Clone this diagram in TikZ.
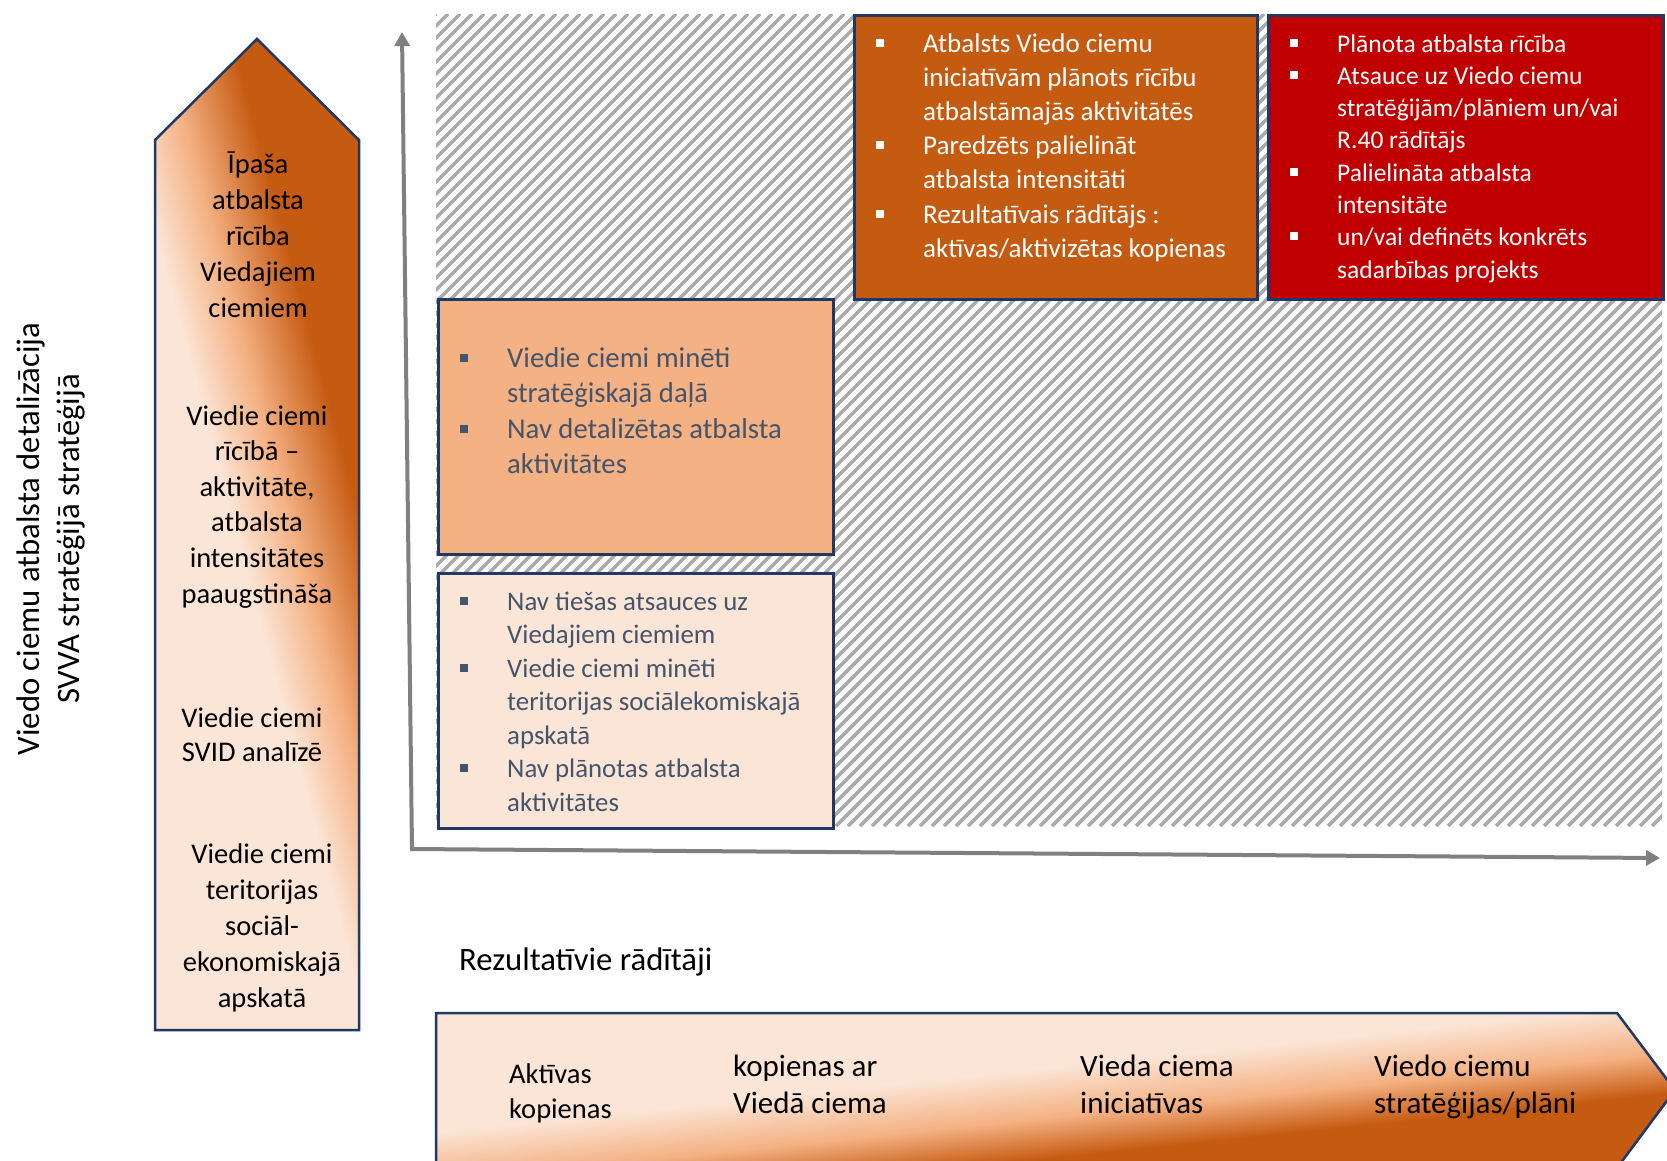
\documentclass[tikz,border=0pt]{standalone}
\usepackage{fontspec}
\setmainfont{Carlito}
\usetikzlibrary{arrows.meta}
\definecolor{pale}{HTML}{FBE5D6}
\definecolor{mid}{HTML}{F4B183}
\definecolor{dark}{HTML}{C55A11}
\definecolor{redbox}{HTML}{C00000}
\definecolor{navy}{HTML}{1F3864}
\definecolor{slate}{HTML}{44546A}
\definecolor{axisgray}{HTML}{808080}
\definecolor{hatchgray}{RGB}{170,168,168}
% gradient of the tall (left) arrow: square of 1000px, 20px per bp
\pgfdeclarehorizontalshading{pptv}{100bp}{color(0bp)=(pale); color(49bp)=(pale); color(51.75bp)=(mid); color(55.25bp)=(dark); color(100bp)=(dark)}
% gradient of the wide (bottom) arrow: square of 1240px, 24.8px per bp
\pgfdeclarehorizontalshading{ppth}{100bp}{color(0bp)=(pale); color(49.07bp)=(pale); color(51.07bp)=(mid); color(52.74bp)=(dark); color(100bp)=(dark)}
\newcommand\bitem{\par\noindent\llap{\rule[5.5pt]{8pt}{8pt}\hspace{39pt}}}
\tikzset{
  panel/.style={draw=navy, line width=2.5pt, inner sep=0pt, anchor=north west},
  outline/.style={draw=navy, line width=2.5pt, line join=miter},
  listtext/.style={anchor=base west, inner sep=0pt},
  ctext/.style={anchor=base, inner sep=0pt, text=black},
  ltext/.style={anchor=base west, inner sep=0pt, text=black},
  axisline/.style={draw=axisgray, line width=4pt, line join=miter,
    {Triangle[length=14pt,width=15pt]}-{Triangle[length=14pt,width=15pt]}},
}
\begin{document}
\begin{tikzpicture}[x=1pt,y=-1pt]
\useasboundingbox (0,0) rectangle (1667,1160);

% hatched field
\begin{scope}
\clip (436,14) rectangle (1662,826);
\foreach \i in {0,12,...,2052}
  \draw[hatchgray, line width=3.5pt] (\i-376,826) -- (\i+436,14);
\end{scope}

% boxes
\node[panel, fill=dark, minimum width=403pt, minimum height=284pt] (obox) at (853,14) {};
\node[panel, fill=redbox, minimum width=395pt, minimum height=284pt] (rbox) at (1267,14) {};
\node[panel, fill=mid, minimum width=395pt, minimum height=255pt] (pbox) at (437,298) {};
\node[panel, fill=pale, minimum width=395pt, minimum height=255pt] (lbox) at (437,572) {};

% box texts
\node[listtext, text=white] (otext) at (923,52) {\parbox[t]{330pt}{\fontsize{27pt}{34.2pt}\selectfont\raggedright
\bitem Atbalsts Viedo ciemu\\iniciatīvām plānots rīcību\\atbalstāmajās aktivitātēs
\bitem Paredzēts palielināt\\atbalsta intensitāti
\bitem Rezultatīvais rādītājs :\\aktīvas/aktivizētas kopienas}};
\node[listtext, text=white] (rtext) at (1337,52) {\parbox[t]{320pt}{\fontsize{25.5pt}{32.3pt}\selectfont\raggedright
\bitem Plānota atbalsta rīcība
\bitem Atsauce uz Viedo ciemu\\stratēģijām/plāniem un/vai\\R.40 rādītājs
\bitem Palielināta atbalsta\\intensitāte
\bitem un/vai definēts konkrēts\\sadarbības projekts}};
\node[listtext, text=slate] (ptext) at (507,367) {\parbox[t]{320pt}{\fontsize{28.7pt}{35.5pt}\selectfont\raggedright
\bitem Viedie ciemi minēti\\stratēģiskajā daļā
\bitem Nav detalizētas atbalsta\\aktivitātes}};
\node[listtext, text=slate] (ltxt) at (507,610) {\parbox[t]{320pt}{\fontsize{26.8pt}{33.5pt}\selectfont\raggedright
\bitem Nav tiešas atsauces uz\\Viedajiem ciemiem
\bitem Viedie ciemi minēti\\teritorijas sociālekomiskajā\\apskatā
\bitem Nav plānotas atbalsta\\aktivitātes}};

% axes
\coordinate (ytip) at (402,32);
\coordinate (origin) at (412,849);
\coordinate (xtip) at (1660,858);
\draw[axisline] (ytip) -- (origin) -- (xtip);

% left vertical arrow
\begin{scope}
\clip (155,1030) -- (155,140) -- (257,39) -- (359,140) -- (359,1030) -- cycle;
\shade[shading=pptv, shading angle=15] (-243,34.5) rectangle (757,1034.5);
\end{scope}
\path[outline] (155,1030) -- (155,140) -- (257,39) -- (359,140) -- (359,1030) -- cycle;
\node[ctext] (l1) at (258,173) {\parbox[t]{200pt}{\centering\fontsize{28.5pt}{36pt}\selectfont Īpaša\\atbalsta\\rīcība\\Viedajiem\\ciemiem}};
\node[ctext] (l2) at (257,425) {\parbox[t]{200pt}{\centering\fontsize{28.5pt}{35.6pt}\selectfont Viedie ciemi\\rīcībā –\\aktivitāte,\\atbalsta\\intensitātes\\paaugstināša}};
\node[ctext] (l3) at (252,727) {\parbox[t]{200pt}{\centering\fontsize{28.5pt}{34.5pt}\selectfont Viedie ciemi\\SVID analīzē}};
\node[ctext] (l4) at (262,863) {\parbox[t]{200pt}{\centering\fontsize{28.5pt}{36pt}\selectfont Viedie ciemi\\teritorijas\\sociāl-\\ekonomiskajā\\apskatā}};

% rotated axis title
\node[rotate=90, anchor=base, inner sep=0pt, font=\fontsize{32.7pt}{40pt}\selectfont] (vt1) at (39,539) {Viedo ciemu atbalsta detalizācija};
\node[rotate=90, anchor=base, inner sep=0pt, font=\fontsize{32.7pt}{40pt}\selectfont] (vt2) at (79,539) {SVVA stratēģijā stratēģijā};

% bottom
\node[ltext, font=\fontsize{32.7pt}{40pt}\selectfont] (rez) at (459,970) {Rezultatīvie rādītāji};
\begin{scope}
\clip (436,1013) -- (1617,1013) -- (1675,1090) -- (1617,1168) -- (436,1168) -- cycle;
\shade[shading=ppth, shading angle=-84] (436,470) rectangle (1676,1710);
\end{scope}
\path[outline] (436,1013) -- (1617,1013) -- (1675,1090) -- (1617,1168) -- (436,1168) -- cycle;
\node[ltext] (b1) at (509,1083) {\parbox[t]{200pt}{\raggedright\fontsize{28.5pt}{35pt}\selectfont Aktīvas\\kopienas}};
\node[ltext] (b2) at (733,1076) {\parbox[t]{250pt}{\raggedright\fontsize{31pt}{37pt}\selectfont kopienas ar\\Viedā ciema}};
\node[ltext] (b3) at (1080,1076) {\parbox[t]{250pt}{\raggedright\fontsize{31pt}{37pt}\selectfont Vieda ciema\\iniciatīvas}};
\node[ltext] (b4) at (1374,1076) {\parbox[t]{280pt}{\raggedright\fontsize{31pt}{37pt}\selectfont Viedo ciemu\\stratēģijas/plāni}};
\end{tikzpicture}
\end{document}
